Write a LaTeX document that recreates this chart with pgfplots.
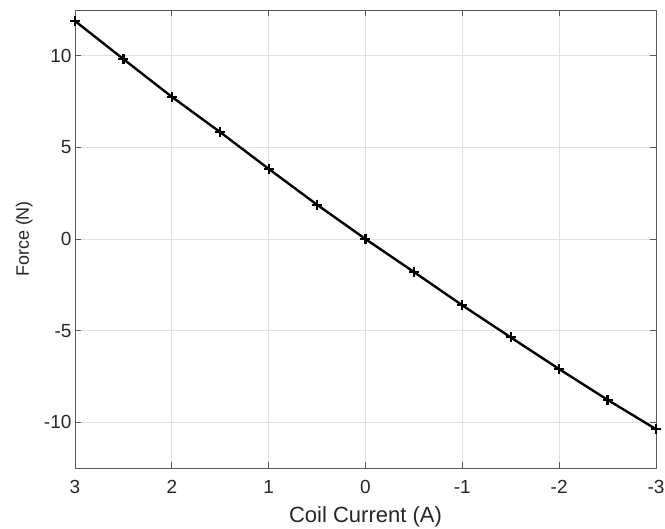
\documentclass[border=0pt]{standalone}
\usepackage{fontspec}
\setmainfont{Liberation Sans}
\usepackage{pgfplots}
\pgfplotsset{compat=1.18}

\definecolor{axgray}{gray}{0.35}
\definecolor{gridgray}{gray}{0.88}

\begin{document}
\begin{tikzpicture}
\useasboundingbox (-75pt,-61pt) rectangle (590pt,468pt);
\begin{axis}[
    scale only axis,
    width=581pt, height=458pt,
    x dir=reverse,
    xmin=-3, xmax=3,
    ymin=-12.5, ymax=12.5,
    xtick={-3,-2,-1,0,1,2,3},
    ytick={-10,-5,0,5,10},
    grid=major,
    major grid style={gridgray, line width=0.8pt},
    axis line style={axgray, line width=0.9pt},
    tick style={axgray, line width=0.9pt},
    tick align=inside,
    major tick length=6pt,
    ticklabel style={font=\fontsize{19}{22}\selectfont, text=black!85},
    /pgf/number format/assume math mode=true,
    xlabel={Coil Current (A)},
    ylabel={Force (N)},
    xlabel style={font=\fontsize{22}{26}\selectfont, text=black!85,
        at={([yshift=-55pt]axis description cs:0.5,0)}, anchor=base},
    ylabel style={font=\fontsize{18}{22}\selectfont, text=black!85,
        at={([xshift=-46pt]axis description cs:0,0.5)}, anchor=base},
    xticklabel style={yshift=-9pt},
]
\addplot[black, line width=2.4pt, mark=+, mark size=5pt,
         mark options={line width=2.2pt}] coordinates {
    (3,11.9) (2.5,9.82) (2,7.76) (1.5,5.83) (1,3.83) (0.5,1.87) (0,0)
    (-0.5,-1.80) (-1,-3.62) (-1.5,-5.37) (-2,-7.10) (-2.5,-8.78) (-3,-10.38)
};
\end{axis}
\end{tikzpicture}
\end{document}
